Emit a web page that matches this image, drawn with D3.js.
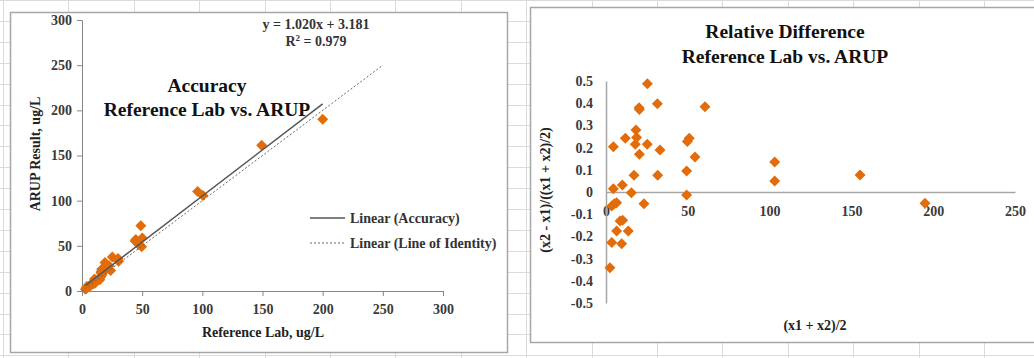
<!DOCTYPE html>
<html>
<head>
<meta charset="utf-8">
<script src="https://cdn.jsdelivr.net/npm/d3@7/dist/d3.min.js"></script>
<style>
  body { margin: 0; background: #fff; }
  text { font-family: "Liberation Serif", "Times New Roman", serif; }
</style>
</head>
<body>
<div id="chart"></div>
<script>
// ---- data ----
// accuracy: reference lab (x) vs ARUP result (y), ug/L
var refLab = [19.1, 25.2, 48.9, 16.4, 16.6, 15.7, 10.4, 16.4, 16.0, 22.5, 4.0, 29.9, 18.7, 44.1, 44.7, 50.1, 47.0, 49.6, 16.5, 30.4,
  9.8, 4.5, 15.5, 23.8, 3.6, 5.2, 6.7, 9.2, 10.8, 7.1, 14.8, 3.9, 10.7, 2.8, 96.1, 100.5, 149.3, 200.0];
var arupResult = [31.5, 37.6, 72.1, 24.0, 24.2, 20.9, 13.2, 21.0, 19.8, 27.9, 5.0, 36.1, 22.1, 55.3, 57.1, 58.7, 51.6, 49.0, 17.7, 32.8,
  10.2, 4.5, 15.5, 22.6, 3.4, 5.0, 6.3, 8.0, 9.6, 5.9, 12.4, 3.1, 8.5, 2.0, 110.1, 105.7, 161.3, 190.0];

// relative difference: mean (x) vs (x2 - x1)/mean (y)
var meanValues = [25.3, 31.4, 60.5, 20.2, 20.4, 18.3, 11.8, 18.7, 17.9, 25.2, 4.5, 33, 20.4, 49.7, 50.9, 54.4, 49.3, 49.3, 17.1, 31.6,
  10, 4.5, 15.5, 23.2, 3.5, 5.1, 6.5, 8.6, 10.2, 6.5, 13.6, 3.5, 9.6, 2.4, 103.1, 103.1, 155.3, 195];
var relDiff = [0.488, 0.398, 0.384, 0.38, 0.372, 0.279, 0.242, 0.245, 0.215, 0.215, 0.204, 0.189, 0.17, 0.227, 0.242, 0.158, 0.095, -0.013, 0.075, 0.075,
  0.032, 0.015, -0.003, -0.053, -0.063, -0.053, -0.048, -0.131, -0.127, -0.176, -0.176, -0.228, -0.233, -0.341, 0.135, 0.05, 0.077, -0.051];

var trendCoef = [1.020, 3.181];        // slope, intercept
var identityRange = [0, 250];
var accTicks = [0, 50, 100, 150, 200, 250, 300];
var relXTicks = [0, 50, 100, 150, 200, 250];
var relYTicks = [-0.5, -0.4, -0.3, -0.2, -0.1, 0, 0.1, 0.2, 0.3, 0.4, 0.5];

var orange = '#e36c0a';
var diamond = 'M0,-5.5L5.5,0L0,5.5L-5.5,0Z';

var svg = d3.select('#chart').append('svg')
  .attr('width', 1034)
  .attr('height', 358);

/* ######## spreadsheet background ######## */
var grid = svg.append('g').attr('stroke', '#dadada').attr('stroke-width', 1);
grid.selectAll('.v').data(d3.range(0, 17)).enter().append('line')
  .attr('x1', d => Math.round(3 + 65.4 * d) + 0.5).attr('x2', d => Math.round(3 + 65.4 * d) + 0.5)
  .attr('y1', 0).attr('y2', 358);
grid.selectAll('.h').data(d3.range(0, 18)).enter().append('line')
  .attr('y1', d => Math.round(20.9 * d) + 0.5).attr('y2', d => Math.round(20.9 * d) + 0.5)
  .attr('x1', 0).attr('x2', 1034);

/* ######## accuracy chart ######## */
function drawAccuracy() {
  var box = svg.append('g');
  box.append('rect')
    .attr('x', 10.5).attr('y', 12.5).attr('width', 497).attr('height', 340)
    .attr('fill', '#fff').attr('stroke', '#a6a6a6').attr('stroke-width', 1.5);

  var x = d3.scaleLinear().domain([0, 300]).range([82, 443]);
  var y = d3.scaleLinear().domain([0, 300]).range([291, 20]);

  var xAxis = box.append('g').attr('transform', 'translate(0,291)')
    .call(d3.axisBottom(x).tickValues(accTicks).tickSize(5).tickPadding(8));
  var yAxis = box.append('g').attr('transform', 'translate(82,0)')
    .call(d3.axisLeft(y).tickValues(accTicks).tickSize(5).tickPadding(5));
  [xAxis, yAxis].forEach(function (a) {
    a.select('.domain').attr('stroke', '#868686');
    a.selectAll('.tick line').attr('stroke', '#868686');
    a.selectAll('text').attr('font-family', 'Liberation Serif').attr('font-size', 14)
      .attr('fill', '#3a3a3a').attr('font-weight', 'bold');
  });

  var pts = refLab.map((d, i) => [d, arupResult[i]]);
  box.selectAll('.pt').data(pts).enter().append('path')
    .attr('d', diamond)
    .attr('transform', d => 'translate(' + x(d[0]) + ',' + y(d[1]) + ')')
    .attr('fill', orange);

  // trendlines
  var xr = d3.extent(refLab);
  box.append('line')
    .attr('x1', x(xr[0])).attr('y1', y(trendCoef[0] * xr[0] + trendCoef[1]))
    .attr('x2', x(xr[1])).attr('y2', y(trendCoef[0] * xr[1] + trendCoef[1]))
    .attr('stroke', '#555').attr('stroke-width', 1.5);
  box.append('line')
    .attr('x1', x(identityRange[0])).attr('y1', y(identityRange[0]))
    .attr('x2', x(identityRange[1])).attr('y2', y(identityRange[1]))
    .attr('stroke', '#666').attr('stroke-width', 1).attr('stroke-dasharray', '2,2');

  // titles
  var title = box.append('text').attr('text-anchor', 'middle')
    .attr('font-size', 19.5).attr('font-weight', 'bold').attr('fill', '#111');
  title.append('tspan').attr('x', 207).attr('y', 92).text('Accuracy');
  title.append('tspan').attr('x', 207).attr('y', 116).text('Reference Lab vs. ARUP');

  var eq = box.append('text').attr('text-anchor', 'middle')
    .attr('font-size', 14).attr('fill', '#333').attr('font-weight', 'bold');
  eq.append('tspan').attr('x', 316).attr('y', 29).text('y = 1.020x + 3.181');
  var r2 = box.append('text').attr('text-anchor', 'middle').attr('x', 316).attr('y', 46)
    .attr('font-size', 14).attr('fill', '#333').attr('font-weight', 'bold');
  r2.append('tspan').text('R');
  r2.append('tspan').attr('font-size', 9).attr('dy', -5).text('2');
  r2.append('tspan').attr('dy', 5).text(' = 0.979');

  box.append('text').attr('x', 263).attr('y', 337).attr('text-anchor', 'middle')
    .attr('font-size', 14).attr('font-weight', 'bold').attr('fill', '#222')
    .text('Reference Lab, ug/L');
  box.append('text').attr('transform', 'translate(40,154) rotate(-90)').attr('text-anchor', 'middle')
    .attr('font-size', 14).attr('font-weight', 'bold').attr('fill', '#222')
    .text('ARUP Result, ug/L');

  // legend
  var legend = box.append('g');
  legend.append('line').attr('x1', 310).attr('x2', 345).attr('y1', 218).attr('y2', 218)
    .attr('stroke', '#555').attr('stroke-width', 1.5);
  legend.append('line').attr('x1', 310).attr('x2', 345).attr('y1', 243).attr('y2', 243)
    .attr('stroke', '#666').attr('stroke-width', 1).attr('stroke-dasharray', '2,2');
  legend.append('text').attr('x', 350).attr('y', 223).attr('font-size', 14).attr('fill', '#333')
    .attr('font-weight', 'bold').text('Linear (Accuracy)');
  legend.append('text').attr('x', 350).attr('y', 248).attr('font-size', 14).attr('fill', '#333')
    .attr('font-weight', 'bold').text('Linear (Line of Identity)');
}

/* ######## relative difference chart ######## */
function drawRelDiff() {
  var box = svg.append('g');
  box.append('rect')
    .attr('x', 530.5).attr('y', 7.5).attr('width', 520).attr('height', 335)
    .attr('fill', '#fff').attr('stroke', '#a6a6a6').attr('stroke-width', 1.5);

  var x = d3.scaleLinear().domain([0, 250]).range([606, 1015]);
  var y = d3.scaleLinear().domain([-0.5, 0.5]).range([303, 81]);

  var xAxis = box.append('g').attr('transform', 'translate(0,' + y(0) + ')')
    .call(d3.axisBottom(x).tickValues(relXTicks).tickSize(0).tickPadding(14));
  var yAxis = box.append('g').attr('transform', 'translate(606,0)')
    .call(d3.axisLeft(y).tickValues(relYTicks).tickSize(0).tickPadding(13).tickFormat(d3.format('')));
  [xAxis, yAxis].forEach(function (a) {
    a.select('.domain').attr('stroke', '#a6a6a6').attr('stroke-width', 1.5);
    a.selectAll('text').attr('font-family', 'Liberation Serif').attr('font-size', 14)
      .attr('fill', '#3a3a3a').attr('font-weight', 'bold');
  });
  yAxis.selectAll('text').text(d => d3.format('')(d).replace('−', '-'));

  box.selectAll('.pt').data(meanValues.map((d, i) => [d, relDiff[i]])).enter().append('path')
    .attr('d', diamond)
    .attr('transform', d => 'translate(' + x(d[0]) + ',' + y(d[1]) + ')')
    .attr('fill', orange);

  var title = box.append('text').attr('text-anchor', 'middle')
    .attr('font-size', 19.5).attr('font-weight', 'bold').attr('fill', '#111');
  title.append('tspan').attr('x', 785).attr('y', 38).text('Relative Difference');
  title.append('tspan').attr('x', 785).attr('y', 63).text('Reference Lab vs. ARUP');

  box.append('text').attr('x', 815).attr('y', 330).attr('text-anchor', 'middle')
    .attr('font-size', 14).attr('font-weight', 'bold').attr('fill', '#222')
    .text('(x1 + x2)/2');
  box.append('text').attr('transform', 'translate(550,190) rotate(-90)').attr('text-anchor', 'middle')
    .attr('font-size', 14).attr('font-weight', 'bold').attr('fill', '#222')
    .text('(x2 - x1)/((x1 + x2)/2)');
}

drawAccuracy();
drawRelDiff();
</script>
</body>
</html>
